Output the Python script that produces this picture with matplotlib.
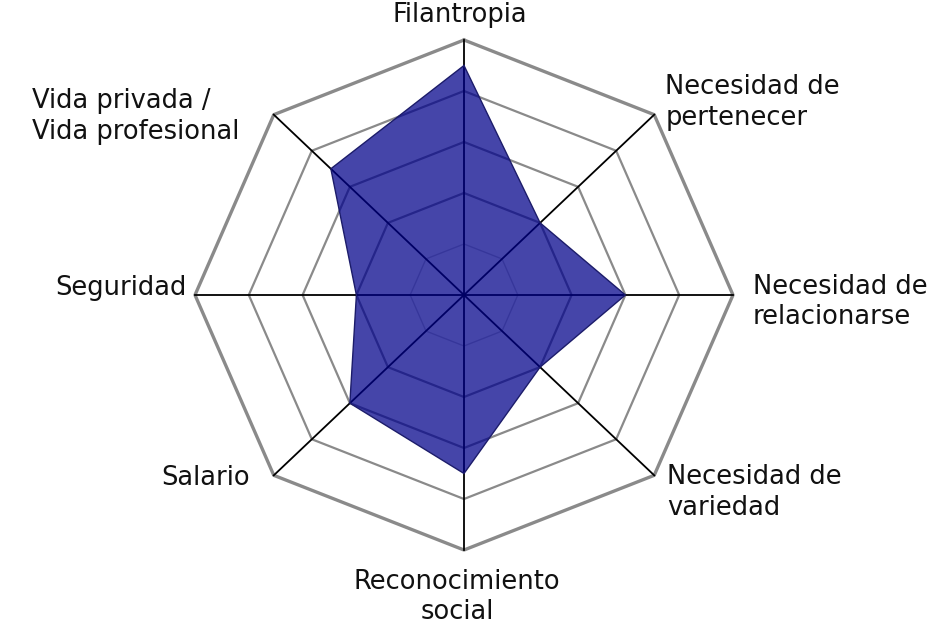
import numpy as np
import matplotlib.pyplot as plt

# Categories (clockwise from top) and values (0-5 scale)
categories = [
    "Filantropia",
    "Necesidad de\npertenecer",
    "Necesidad de\nrelacionarse",
    "Necesidad de\nvariedad",
    "Reconocimiento\nsocial",
    "Salario",
    "Seguridad",
    "Vida privada /\nVida profesional",
]
values = [4.5, 2, 3, 2, 3.5, 3, 2, 3.5]
levels = [1, 2, 3, 4, 5]

n = len(categories)
angles = np.arange(n) * 2 * np.pi / n
sx = np.sin(angles)
sy = np.cos(angles)

fig = plt.figure(figsize=(9.41, 6.32), dpi=100)
# axes placed so the center sits at (464, 295) px; x unit 53.8 px, y unit 51 px
ux, uy = 53.8, 51.0
half = 5.7
w_px, h_px = 2 * half * ux, 2 * half * uy
left = (464 - half * ux) / 941
bottom = (632 - 295 - half * uy) / 632
ax = fig.add_axes([left, bottom, w_px / 941, h_px / 632])
ax.set_xlim(-half, half)
ax.set_ylim(-half, half)
ax.axis("off")

# octagonal rings
for lv in levels:
    xs = np.append(sx * lv, sx[0] * lv)
    ys = np.append(sy * lv, sy[0] * lv)
    if lv == 1:
        col, lw = "#c8c8c8", 1.0
    elif lv == 5:
        col, lw = "#8a8a8a", 2.4
    else:
        col, lw = "#8a8a8a", 1.6
    ax.plot(xs, ys, color=col, lw=lw, zorder=1)

# spokes
for i in range(n):
    ax.plot([0, sx[i] * 5], [0, sy[i] * 5], color="black", lw=1.3, zorder=2)

# data polygon (semi-transparent, grid shows through)
vx = np.array(values) * sx
vy = np.array(values) * sy
ax.fill(vx, vy, color="#00008a", alpha=0.73, lw=0, zorder=3)
ax.plot(np.append(vx, vx[0]), np.append(vy, vy[0]), color="#1c1c6a", lw=1.0, zorder=4)

# labels: offsets in pixels from the outer vertex
label_pos = [
    ((-4, 25), "center", "center", "center"),
    ((11, 12), "left", "center", "left"),
    ((20, -7), "left", "center", "left"),
    ((13, -17), "left", "center", "left"),
    ((-7, -19), "center", "top", "center"),
    ((-24, -3), "right", "center", "left"),
    ((-8, 7), "right", "center", "left"),
    ((-34, -2), "right", "center", "left"),
]
for i, lab in enumerate(categories):
    (dx, dy), ha, va, ma = label_pos[i]
    ax.annotate(lab, (sx[i] * 5, sy[i] * 5),
                xytext=(dx * 0.72, dy * 0.72), textcoords="offset points",
                ha=ha, va=va, multialignment=ma, fontsize=18.5,
                family="DejaVu Sans", color="#111111",
                linespacing=1.22, annotation_clip=False)

plt.savefig("out.png", dpi=100)
